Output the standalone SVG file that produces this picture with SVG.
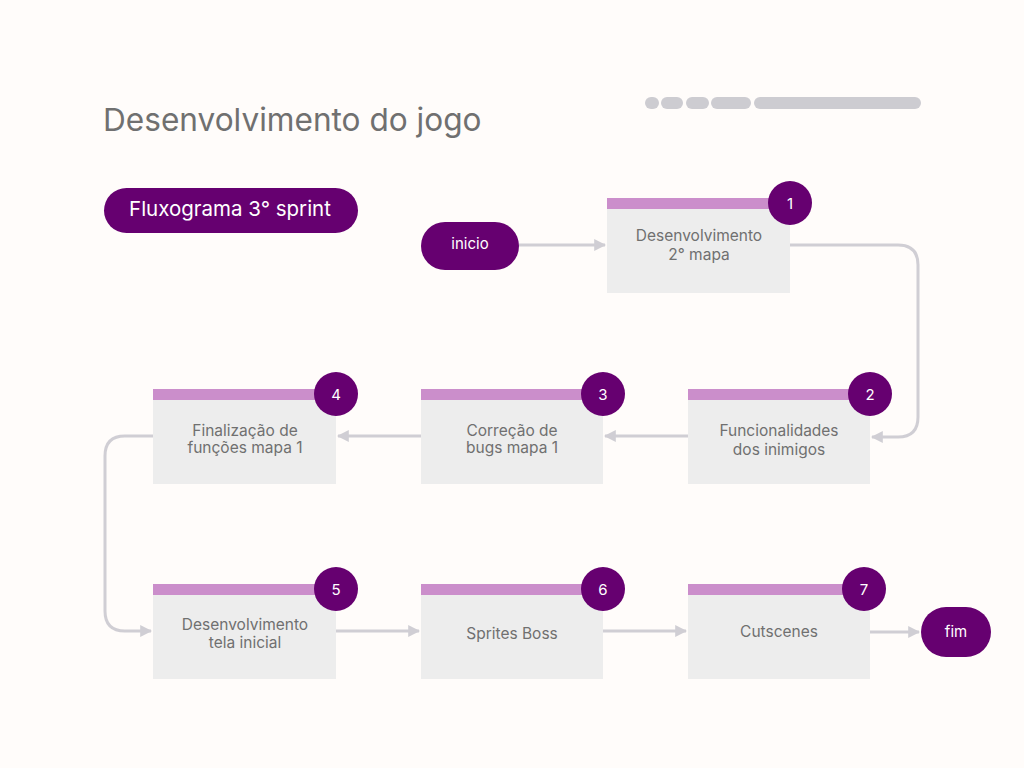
<svg xmlns="http://www.w3.org/2000/svg" width="1024" height="768" viewBox="0 0 1024 768">
<defs>
<style>
.box{fill:#EDEDED}
.bar{fill:#CB8ECB}
.badge{fill:#660070}
.num{font-family:Inter,"Noto Sans",sans-serif;font-size:15px;fill:#FFFFFF;text-anchor:middle}
.lbl{font-family:Inter,"Noto Sans",sans-serif;font-size:15.5px;fill:#707070;text-anchor:middle}
.pilltxt{font-family:Inter,"Noto Sans",sans-serif;font-size:15px;fill:#FFFFFF;text-anchor:middle}
.conn{fill:none;stroke:#D0CED4;stroke-width:3;marker-end:url(#arr)}
.dot{fill:#CDCCD1}
</style>
<marker id="arr" viewBox="0 0 10 10" refX="9" refY="5" markerWidth="4" markerHeight="4" orient="auto" markerUnits="strokeWidth">
<path d="M0,0 L10,5 L0,10 Z" fill="#D0CED4"/>
</marker>
</defs>
<rect width="1024" height="768" fill="#FFFCFA"/>
<text x="103" y="131" font-family="Inter,'Noto Sans',sans-serif" font-size="31.6" fill="#707070">Desenvolvimento do jogo</text>
<g id="dots">
<rect class="dot" x="645" y="97" width="14" height="12" rx="6"/>
<rect class="dot" x="661" y="97" width="22" height="12" rx="6"/>
<rect class="dot" x="686" y="97" width="23" height="12" rx="6"/>
<rect class="dot" x="711" y="97" width="40" height="12" rx="6"/>
<rect class="dot" x="754" y="97" width="167" height="12" rx="6"/>
</g>
<g id="title-pill">
<rect x="104" y="188" width="254" height="45" rx="22.5" fill="#660070"/>
<text class="pilltxt" x="230" y="216" style="font-size:20.5px">Fluxograma 3° sprint</text>
</g>
<g id="connectors">
<path class="conn" d="M519,245 L605,245"/>
<path class="conn" d="M790,245 L898,245 Q918,245 918,265 L918,417 Q918,437 898,437 L872,437"/>
<path class="conn" d="M688,436 L605,436"/>
<path class="conn" d="M421,436 L338,436"/>
<path class="conn" d="M153,436 L125,436 Q105,436 105,456 L105,611 Q105,631 125,631 L151,631"/>
<path class="conn" d="M336,631 L419,631"/>
<path class="conn" d="M603,631 L686,631"/>
<path class="conn" d="M870,632 L919,632"/>
</g>
<g id="inicio">
<rect x="421" y="222" width="98" height="48" rx="24" fill="#660070"/>
<text class="pilltxt" x="470" y="249">inicio</text>
</g>
<g id="fim">
<rect x="921" y="607" width="70" height="50" rx="25" fill="#660070"/>
<text class="pilltxt" x="956" y="637">fim</text>
</g>
<g id="n1">
<rect class="box" x="607" y="198" width="183" height="95"/>
<rect class="bar" x="607" y="198" width="183" height="11"/>
<circle class="badge" cx="790" cy="203" r="22"/>
<text class="num" x="790" y="209">1</text>
<text class="lbl" x="699" y="241">Desenvolvimento</text>
<text class="lbl" x="699" y="260">2° mapa</text>
</g>
<g id="n2">
<rect class="box" x="688" y="389" width="182" height="95"/>
<rect class="bar" x="688" y="389" width="182" height="11"/>
<circle class="badge" cx="870" cy="394" r="22"/>
<text class="num" x="870" y="400">2</text>
<text class="lbl" x="779" y="436">Funcionalidades</text>
<text class="lbl" x="779" y="455">dos inimigos</text>
</g>
<g id="n3">
<rect class="box" x="421" y="389" width="182" height="95"/>
<rect class="bar" x="421" y="389" width="182" height="11"/>
<circle class="badge" cx="603" cy="394" r="22"/>
<text class="num" x="603" y="400">3</text>
<text class="lbl" x="512" y="436">Correção de</text>
<text class="lbl" x="512" y="453">bugs mapa 1</text>
</g>
<g id="n4">
<rect class="box" x="153" y="389" width="183" height="95"/>
<rect class="bar" x="153" y="389" width="183" height="11"/>
<circle class="badge" cx="336" cy="394" r="22"/>
<text class="num" x="336" y="400">4</text>
<text class="lbl" x="245" y="436">Finalização de</text>
<text class="lbl" x="245" y="453">funções mapa 1</text>
</g>
<g id="n5">
<rect class="box" x="153" y="584" width="183" height="95"/>
<rect class="bar" x="153" y="584" width="183" height="11"/>
<circle class="badge" cx="336" cy="589" r="22"/>
<text class="num" x="336" y="595">5</text>
<text class="lbl" x="245" y="630">Desenvolvimento</text>
<text class="lbl" x="245" y="648">tela inicial</text>
</g>
<g id="n6">
<rect class="box" x="421" y="584" width="182" height="95"/>
<rect class="bar" x="421" y="584" width="182" height="11"/>
<circle class="badge" cx="603" cy="589" r="22"/>
<text class="num" x="603" y="595">6</text>
<text class="lbl" x="512" y="639">Sprites Boss</text>
</g>
<g id="n7">
<rect class="box" x="688" y="584" width="182" height="95"/>
<rect class="bar" x="688" y="584" width="182" height="11"/>
<circle class="badge" cx="864" cy="589" r="22"/>
<text class="num" x="864" y="595">7</text>
<text class="lbl" x="779" y="637">Cutscenes</text>
</g>
</svg>
